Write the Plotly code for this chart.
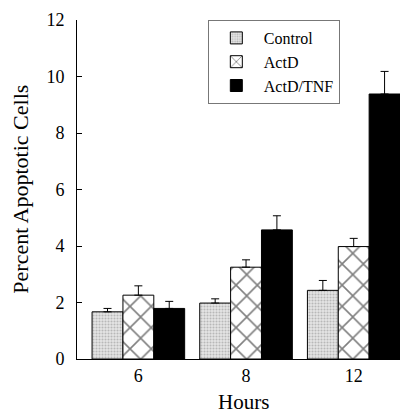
import plotly.graph_objects as go

hours = ["6", "8", "12"]
series = ["Control", "ActD", "ActD/TNF"]
control = [1.67, 1.98, 2.43]
control_err = [0.12, 0.15, 0.35]
actd = [2.26, 3.25, 3.98]
actd_err = [0.33, 0.26, 0.29]
tnf = [1.79, 4.57, 9.38]
tnf_err = [0.25, 0.50, 0.80]

xpos = [0, 1, 2]

def err(vals):
    return dict(type="data", array=vals, arrayminus=[0] * len(vals), symmetric=False,
                color="black", thickness=1, width=4)

fig = go.Figure()
fig.add_trace(go.Bar(
    name=series[0], x=xpos, y=control, error_y=err(control_err),
    marker=dict(color="#e6e6e6", line=dict(color="black", width=1),
                pattern=dict(shape=".", fgcolor="#8a8a8a", bgcolor="#e6e6e6", size=3, solidity=0.4)),
))
fig.add_trace(go.Bar(
    name=series[1], x=xpos, y=actd, error_y=err(actd_err),
    marker=dict(color="white", line=dict(color="black", width=1),
                pattern=dict(shape="x", fgcolor="black", bgcolor="white", size=15, solidity=0.2)),
))
fig.add_trace(go.Bar(
    name=series[2], x=xpos, y=tnf, error_y=err(tnf_err),
    marker=dict(color="black", line=dict(color="black", width=1)),
))

font = "Liberation Serif, Times New Roman, serif"
fig.update_layout(
    width=406, height=406,
    margin=dict(l=69, r=14, t=12, b=55),
    barmode="group", bargap=0.14, bargroupgap=0,
    plot_bgcolor="white", paper_bgcolor="white",
    font=dict(family=font, color="black", size=18),
    showlegend=True,
    legend=dict(x=0.405, y=1.0, xanchor="left", yanchor="top",
                bordercolor="#777777", borderwidth=1, bgcolor="white",
                font=dict(size=16, family=font), tracegroupgap=0,
                itemwidth=45),
    xaxis=dict(range=[-0.57, 2.43], tickvals=xpos, ticktext=hours,
               showline=True, linecolor="black", linewidth=1, ticks="",
               showgrid=False, zeroline=False, automargin=False),
    yaxis=dict(range=[0, 12], tickvals=[0, 2, 4, 6, 8, 10, 12],
               showline=True, linecolor="black", linewidth=1, ticks="inside",
               ticklen=5, tickcolor="black", showgrid=False, zeroline=False,
               ticklabelstandoff=8, automargin=False),
    annotations=[
        dict(text="Hours", xref="paper", yref="paper", x=0.514, y=-0.128,
             xanchor="center", yanchor="middle", showarrow=False,
             font=dict(size=21, family=font, color="black")),
        dict(text="Percent Apoptotic Cells", xref="paper", yref="paper",
             x=-0.176, y=0.5, xanchor="center", yanchor="middle", textangle=-90,
             showarrow=False, font=dict(size=22, family=font, color="black")),
    ],
)

fig.write_html("out.html")
